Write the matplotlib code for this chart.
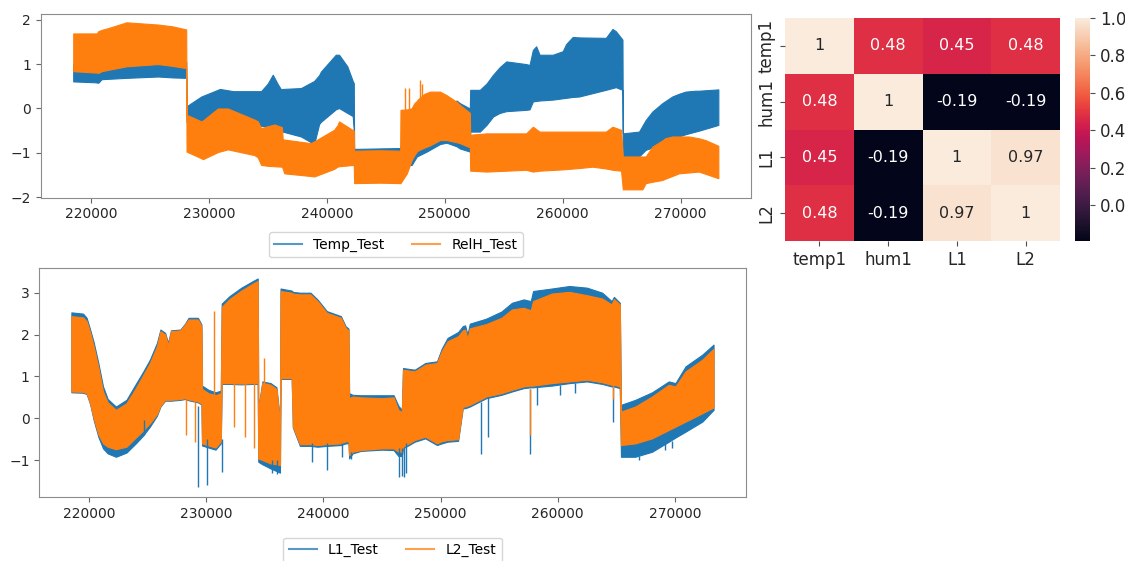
import matplotlib
matplotlib.use("Agg")
import matplotlib.pyplot as plt
from matplotlib.lines import Line2D
import pandas as pd
import seaborn as sns

# ---- top panel: Temp_Test / RelH_Test (envelopes of the dense signal) ----
temp_x = [218500, 220350, 220630, 220910, 223020, 225690, 226900, 228080,
          228110, 229360, 230940, 232070, 233500, 234430, 234990, 235420, 235840,
          236120, 236260, 237810, 238930, 239350, 239500, 240760, 241040, 241740,
          242200, 242290,
          242320, 246220,
          246250, 247200, 247630, 248470, 249600, 250160, 251000, 251290, 252130,
          252160, 252975, 253540, 254100, 254660, 255220, 256900, 257190, 257475,
          257755, 258040, 259160, 260010, 260290, 260850, 261400, 263660, 264225,
          264510, 265070,
          265100, 266475, 267040, 267600, 268445, 269290, 269850, 270415, 271250,
          271540, 273200]
temp_lo = [0.61, 0.59, 0.58, 0.66, 0.69, 0.72, 0.70, 0.69,
           -0.30, -0.32, -0.33, -0.34, -0.35, -0.39, -0.40, -0.40, -0.41,
           -0.45, -0.52, -0.63, -0.80, -0.35, -0.30, -0.02, 0.01, -0.10,
           -0.17, -0.50,
           -1.30, -1.30,
           -1.30, -1.27, -1.08, -0.97, -0.80, -0.77, -0.85, -0.90, -0.97,
           -0.52, -0.52, -0.37, -0.18, -0.10, -0.06, -0.03, -0.02, 0.16,
           0.17, 0.18, 0.20, 0.23, 0.24, 0.26, 0.27, 0.42, 0.46,
           0.48, 0.42,
           -1.08, -1.08, -0.93, -0.88, -0.78, -0.68, -0.63, -0.58, -0.52,
           -0.50, -0.37]
temp_hi = [1.00, 0.98, 0.98, 1.00, 1.10, 1.15, 1.10, 1.05,
           0.05, 0.27, 0.44, 0.39, 0.39, 0.39, 0.56, 0.76, 0.55,
           0.43, 0.44, 0.46, 0.62, 0.75, 0.83, 1.21, 1.21, 0.95,
           0.62, 0.57,
           -0.91, -0.89,
           -0.85, -0.50, -0.35, -0.20, -0.05, 0.00, 0.18, 0.12, 0.00,
           0.42, 0.42, 0.56, 0.76, 0.93, 1.06, 1.00, 0.98, 1.32,
           1.40, 1.21, 1.21, 1.29, 1.45, 1.61, 1.60, 1.59, 1.79,
           1.74, 1.55,
           -0.56, -0.52, -0.26, -0.07, 0.12, 0.27, 0.33, 0.38, 0.40,
           0.40, 0.43]

relh_x = [218500, 220350, 220490, 220630, 220910, 221470, 223020, 225690, 226900, 228080,
          228110, 229360, 229500, 230770, 231610, 233870, 234150, 234430, 234990,
          235560, 236200, 236260, 236400, 238650, 238930, 240620, 240900, 241040, 242290,
          242320, 244500, 246220,
          246250, 246790, 247150, 247200, 247430, 247630, 247710, 248270, 248470,
          248755, 249600, 250160, 251010, 251290, 252000, 252130,
          252160, 253540, 256900, 257475, 258040, 260010, 261400, 262540, 263660,
          264225, 264950,
          265100, 266760, 267040, 267600, 268445, 268700, 269290, 269850, 270700,
          271540, 272100, 273200]
relh_lo = [0.84, 0.81, 0.81, 0.80, 0.84, 0.87, 0.95, 1.00, 0.96, 0.91,
           -0.97, -1.12, -1.14, -0.98, -0.92, -1.05, -1.10, -1.27, -1.29,
           -1.30, -1.31, -1.35, -1.46, -1.52, -1.53, -1.36, -1.31, -1.30, -1.27,
           -1.68, -1.67, -1.68,
           -1.68, -1.46, -1.19, -1.16, -1.05, -0.97, -0.95, -0.88, -0.86,
           -0.83, -0.71, -0.71, -0.76, -0.78, -0.86, -0.86,
           -1.40, -1.42, -1.38, -1.42, -1.40, -1.37, -1.34, -1.31, -1.35,
           -1.38, -1.40,
           -1.82, -1.82, -1.68, -1.65, -1.61, -1.58, -1.52, -1.46, -1.44,
           -1.42, -1.47, -1.57]
relh_hi = [1.69, 1.69, 1.69, 1.74, 1.77, 1.81, 1.94, 1.89, 1.85, 1.78,
           -0.14, -0.29, -0.27, 0.00, 0.00, -0.25, -0.29, -0.44, -0.40,
           -0.36, -0.42, -0.69, -0.70, -0.78, -0.74, -0.48, -0.38, -0.29, -0.50,
           -0.95, -0.94, -0.95,
           -0.03, -0.02, 0.00, 0.01, 0.12, 0.17, 0.20, 0.33, 0.35,
           0.38, 0.38, 0.30, 0.15, 0.08, -0.07, -0.10,
           -0.59, -0.56, -0.56, -0.41, -0.52, -0.52, -0.52, -0.52, -0.52,
           -0.41, -0.48,
           -1.08, -1.08, -1.08, -0.86, -0.72, -0.67, -0.63, -0.63, -0.63,
           -0.67, -0.71, -0.84]

# single-sample spikes: x, from, to
relh_spike_x = [246640, 246930, 247900, 248050]
relh_spike_a = [-0.10, -0.10, 0.20, 0.20]
relh_spike_b = [0.46, 0.46, 0.65, 0.55]

# ---- bottom panel: L1_Test / L2_Test ----
level_x = [218500, 219500, 219800, 220100, 220400, 220800, 221200, 221600, 222300,
           223200, 224000, 224600, 225200, 225800, 226100, 226500, 226750, 227000,
           227800, 228200, 228500, 229300, 229600,
           229650, 230200, 230800, 231250,
           231330, 232000, 233000, 234000, 234400,
           234450, 234800, 235500, 236000, 236300,
           236350, 237300, 237400, 238000, 238900, 239500, 240300, 241500, 241900, 242150,
           242200, 242500, 243200, 245000, 246000, 246400, 246700,
           246800, 247800, 248700, 249700, 250100, 250600, 251500, 251900, 252100,
           252300, 252500, 253900, 255200, 256100, 257100, 257700, 257900, 259500,
           261000, 262500, 263800, 264600, 264800, 265300,
           265400, 266620, 268050, 269480, 270050, 270910, 272340, 273300]
l2_lo = [0.64, 0.63, 0.60, 0.36, 0.00, -0.38, -0.60, -0.68, -0.74,
         -0.68, -0.46, -0.30, -0.12, 0.10, 0.30, 0.44, 0.44, 0.44,
         0.46, 0.48, 0.45, 0.40, 0.35,
         -0.60, -0.65, -0.70, -0.55,
         0.84, 0.84, 0.83, 0.84, 0.84,
         -0.96, -1.00, -1.08, -1.10, -1.12,
         0.96, 0.96, -0.20, -0.62, -0.62, -0.64, -0.62, -0.60, -0.55, -0.55,
         -0.88, -0.80, -0.76, -0.72, -0.72, -0.80, -0.80,
         -0.68, -0.52, -0.44, -0.60, -0.55, -0.52, -0.50, 0.28, 0.28,
         0.30, 0.32, 0.52, 0.60, 0.68, 0.76, 0.78, 0.78, 0.84,
         0.88, 0.92, 0.86, 0.80, 0.80, 0.76,
         -0.64, -0.60, -0.48, -0.28, -0.20, -0.08, 0.12, 0.26]
l2_hi = [2.44, 2.41, 2.32, 2.05, 1.72, 1.22, 0.64, 0.38, 0.20,
         0.36, 0.72, 1.02, 1.32, 1.72, 2.08, 2.00, 1.75, 2.08,
         2.10, 2.24, 2.36, 2.36, 2.20,
         0.70, 0.60, 0.55, 0.60,
         2.66, 2.85, 3.05, 3.22, 3.28,
         0.20, 0.85, 0.80, 0.70, -0.10,
         3.04, 3.00, 2.98, 2.96, 2.96, 2.80, 2.52, 2.40, 2.16, 2.10,
         0.48, 0.52, 0.50, 0.48, 0.50, 0.20, 0.15,
         1.16, 1.12, 1.28, 1.32, 1.60, 1.84, 1.96, 2.10, 2.12,
         1.90, 2.15, 2.25, 2.40, 2.60, 2.64, 2.58, 2.80, 2.98,
         3.02, 2.94, 2.86, 2.72, 2.85, 2.72,
         0.16, 0.28, 0.52, 0.80, 0.76, 1.12, 1.40, 1.66]
l1_lo = [0.62, 0.61, 0.58, 0.34, -0.04, -0.44, -0.72, -0.84, -0.92,
         -0.82, -0.60, -0.42, -0.20, 0.06, 0.28, 0.42, 0.42, 0.42,
         0.44, 0.46, 0.43, 0.38, 0.33,
         -0.65, -0.70, -0.75, -0.60,
         0.82, 0.82, 0.81, 0.82, 0.82,
         -1.04, -1.10, -1.20, -1.26, -1.30,
         0.94, 0.94, -0.22, -0.66, -0.66, -0.68, -0.66, -0.64, -0.60, -0.60,
         -0.96, -0.84, -0.78, -0.75, -0.76, -0.90, -0.90,
         -0.72, -0.56, -0.48, -0.64, -0.60, -0.56, -0.54, 0.24, 0.24,
         0.26, 0.28, 0.48, 0.56, 0.64, 0.72, 0.74, 0.74, 0.78,
         0.84, 0.88, 0.82, 0.76, 0.76, 0.72,
         -0.92, -0.92, -0.80, -0.56, -0.46, -0.32, -0.08, 0.20]
l1_hi = [2.53, 2.50, 2.40, 2.12, 1.82, 1.32, 0.76, 0.46, 0.28,
         0.44, 0.82, 1.10, 1.40, 1.80, 2.12, 2.04, 1.80, 2.10,
         2.12, 2.26, 2.40, 2.40, 2.24,
         0.78, 0.68, 0.62, 0.66,
         2.74, 2.92, 3.12, 3.28, 3.34,
         0.24, 0.88, 0.84, 0.74, -0.05,
         3.10, 3.05, 3.02, 3.00, 3.00, 2.84, 2.56, 2.44, 2.20, 2.14,
         0.60, 0.56, 0.55, 0.55, 0.55, 0.30, 0.20,
         1.20, 1.16, 1.32, 1.36, 1.66, 1.92, 2.06, 2.20, 2.22,
         2.00, 2.26, 2.38, 2.55, 2.76, 2.84, 2.80, 3.04, 3.10,
         3.16, 3.12, 3.00, 2.80, 2.90, 2.76,
         0.32, 0.44, 0.62, 0.88, 0.84, 1.24, 1.52, 1.76]

l1_spike_x = [224700, 229345, 230060, 231345, 235630, 236060, 239060, 240340,
              241630, 242400, 246480, 246700, 246900, 247060, 253490, 254060,
              257630, 258200, 260200, 261480, 264710, 266910, 269200, 269770]
l1_spike_a = [-0.05, 0.30, -0.50, -0.50, -1.00, -1.00, -0.60, -0.60,
              -0.60, -0.80, -0.70, -0.70, -0.70, -0.60, 0.40, 0.50,
              0.70, 0.75, 0.80, 0.85, 0.75, -0.90, -0.60, -0.55]
l1_spike_b = [-0.40, -1.64, -1.60, -1.28, -1.30, -1.32, -1.04, -1.24,
              -0.92, -0.98, -1.40, -1.38, -1.40, -1.30, -0.85, -0.44,
              -0.85, 0.32, 0.56, 0.60, -0.10, -1.00, -0.76, -0.72]

l2_spike_x = [228290, 229060, 230630, 232400, 233300, 234050, 234970, 257630, 264710]
l2_spike_a = [0.45, 0.40, 0.50, 0.90, 0.90, 0.90, 0.80, 0.70, 0.80]
l2_spike_b = [-0.40, -0.56, 2.56, -0.20, -0.45, -0.70, 1.44, -0.40, 0.45]

# ---- correlation heatmap ----
corr_names = ["temp1", "hum1", "L1", "L2"]
corr_values = [[1.00, 0.48, 0.45, 0.48],
               [0.48, 1.00, -0.19, -0.19],
               [0.45, -0.19, 1.00, 0.97],
               [0.48, -0.19, 0.97, 1.00]]

blue = "#1f77b4"
orange = "#ff7f0e"

fig = plt.figure(figsize=(11.25, 5.61), dpi=100)

ax1 = fig.add_axes([0.0364, 0.6476, 0.6308, 0.3275])
ax1.fill_between(temp_x, temp_lo, temp_hi, color=blue, lw=0.8)
ax1.fill_between(relh_x, relh_lo, relh_hi, color=orange, lw=0.8)
ax1.vlines(relh_spike_x, relh_spike_a, relh_spike_b, color=orange, lw=1)
ax1.legend([Line2D([0], [0], color=blue, lw=1.5, alpha=0.75),
            Line2D([0], [0], color=orange, lw=1.5, alpha=0.75)],
           ["Temp_Test", "RelH_Test"], loc="upper center",
           bbox_to_anchor=(0.5, -0.15), ncol=2, fontsize=10)

ax2 = fig.add_axes([0.0349, 0.1135, 0.6279, 0.4087])
ax2.fill_between(level_x, l1_lo, l1_hi, color=blue, lw=0.8)
ax2.vlines(l1_spike_x, l1_spike_a, l1_spike_b, color=blue, lw=1)
ax2.fill_between(level_x, l2_lo, l2_hi, color=orange, lw=0.8)
ax2.vlines(l2_spike_x, l2_spike_a, l2_spike_b, color=orange, lw=1)
ax2.legend([Line2D([0], [0], color=blue, lw=1.5, alpha=0.75),
            Line2D([0], [0], color=orange, lw=1.5, alpha=0.75)],
           ["L1_Test", "L2_Test"], loc="upper center",
           bbox_to_anchor=(0.5, -0.145), ncol=2, fontsize=10)

for ax in (ax1, ax2):
    for s in ax.spines.values():
        s.set_color("0.55")
    ax.tick_params(labelsize=10, color="0.4", labelcolor="0.15")

hax = fig.add_axes([0.6978, 0.5704, 0.2444, 0.3975])
cax = fig.add_axes([0.9556, 0.5704, 0.0133, 0.3975])
corr = pd.DataFrame(corr_values, index=corr_names, columns=corr_names)
sns.heatmap(corr, annot=True, ax=hax, cbar_ax=cax, annot_kws={"size": 11.5})
hax.set_yticklabels(corr_names, rotation=90, va="center")
hax.tick_params(labelsize=12, color="0.3", labelcolor="0.15")
cax.tick_params(labelsize=12, color="0.3", labelcolor="0.15")

fig.savefig("out.png", dpi=100)
